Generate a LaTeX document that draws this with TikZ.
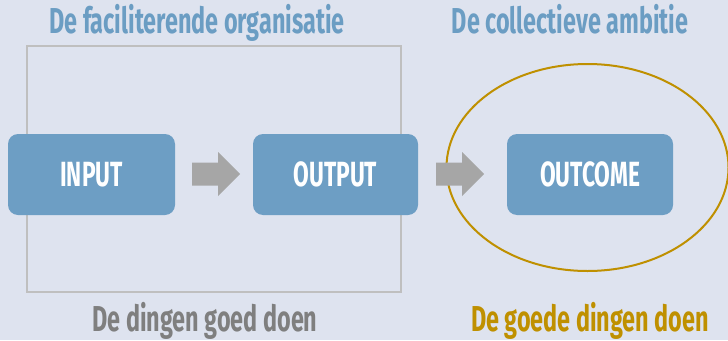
\documentclass[tikz,border=0pt]{standalone}
\usepackage{fontspec}
\setmainfont{Fira Sans}
\newfontfamily\agency[FakeStretch=0.65]{Fira Sans}
\definecolor{bg}{HTML}{DEE3EF}
\definecolor{boxblue}{HTML}{6D9EC4}
\definecolor{titleblue}{HTML}{6B9DC3}
\definecolor{framegrey}{HTML}{BFBFBF}
\definecolor{arrowgrey}{HTML}{A6A6A6}
\definecolor{txtgrey}{HTML}{7F7F7F}
\definecolor{gold}{HTML}{BF9000}
\begin{document}
\begin{tikzpicture}[x=1pt,y=-1pt,
  box/.style={fill=boxblue, rounded corners=10pt, minimum height=81pt, inner sep=0pt,
    text=white, font=\agency\bfseries\fontsize{35}{35}\selectfont},
  title/.style={anchor=base, inner sep=0pt, font=\agency\bfseries\fontsize{36}{36}\selectfont},
  blockarrow/.style={fill=arrowgrey}]
\fill[bg] (0,0) rectangle (728,340);
\useasboundingbox (0,0) rectangle (728,340);
\draw[framegrey, line width=1.5pt] (27,46) rectangle (401,292);
\node[box, minimum width=167pt] (input) at (91.5,174.5) {INPUT\hspace{16pt}};
\node[box, minimum width=165pt] (output) at (335.5,174.5) {OUTPUT\hspace{9pt}};
\node[box, minimum width=166pt] (outcome) at (590,174.5) {OUTCOME\hspace{5pt}};
\draw[gold, line width=2pt] (587.5,167.5) ellipse [x radius=141, y radius=103.5];
\fill[blockarrow] (192,162.5) -- (218,162.5) -- (218,152) -- (240,174) -- (218,196) -- (218,185.5) -- (192,185.5) -- cycle;
\fill[blockarrow] (436,162.5) -- (462,162.5) -- (462,152) -- (484,174) -- (462,196) -- (462,185.5) -- (436,185.5) -- cycle;
\node[title, text=titleblue] (t1) at (197,33) {De faciliterende organisatie};
\node[title, text=titleblue] (t2) at (570,33) {De collectieve ambitie};
\node[title, text=txtgrey] (t3) at (205,331) {De dingen goed doen};
\node[title, text=gold] (t4) at (590,331) {De goede dingen doen};
\end{tikzpicture}
\end{document}
